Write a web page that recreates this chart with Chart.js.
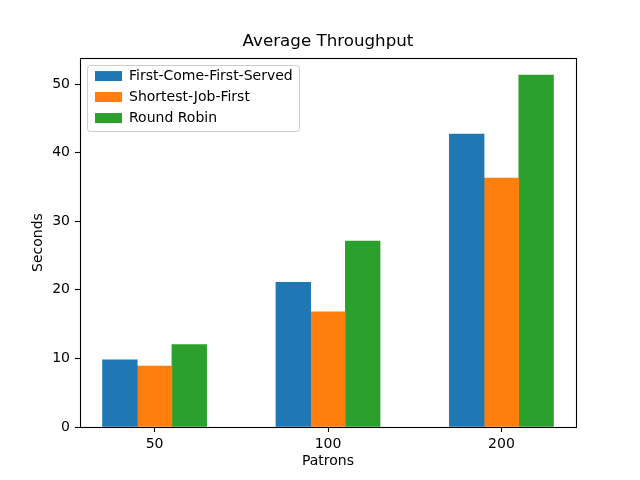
<!DOCTYPE html>
<html>
<head>
<meta charset="utf-8">
<script src="https://cdn.jsdelivr.net/npm/chart.js@4"></script>
<style>
  html, body { margin: 0; padding: 0; background: #fff; }
  #chart { display: block; }
</style>
</head>
<body>
<canvas id="chart" width="640" height="480"></canvas>
<script>
// values
const categories = ["50", "100", "200"];
const seriesNames = ["First-Come-First-Served", "Shortest-Job-First", "Round Robin"];
const fcfsValues = [9.8, 21.1, 42.7];
const sjfValues = [8.9, 16.8, 36.3];
const rrValues = [12.0, 27.1, 51.3];
const colors = ["#1f77b4", "#ff7f0e", "#2ca02c"];

const FONT = "'DejaVu Sans', 'Liberation Sans', sans-serif";

function toPoints(values) {
  return values.map((v, i) => ({ x: i, y: v }));
}

const datasets = [fcfsValues, sjfValues, rrValues].map((vals, i) => ({
  label: seriesNames[i],
  data: toPoints(vals),
  backgroundColor: colors[i],
  borderWidth: 0,
  barThickness: 34.7,
}));

// axes box + matplotlib-like legend frame
const framePlugin = {
  id: "frame",
  afterLayout(chart) {
    const a = chart.chartArea;
    chart.legend.left = a.left + 8;
    chart.legend.top = a.top + 4;
  },
  beforeDraw(chart) {
    const ctx = chart.ctx;
    ctx.save();
    ctx.fillStyle = "#fff";
    ctx.fillRect(0, 0, chart.width, chart.height);
    ctx.restore();
  },
  afterDraw(chart) {
    const { ctx, chartArea: a } = chart;
    ctx.save();
    ctx.strokeStyle = "#000";
    ctx.lineWidth = 1.1;
    ctx.strokeRect(Math.round(a.left) + 0.5, Math.round(a.top) + 0.5,
      Math.round(a.right - a.left), Math.round(a.bottom - a.top));
    // legend frame
    const x = a.left + 7.5, y = a.top + 7.5, w = 212, h = 66, r = 3;
    ctx.strokeStyle = "#cccccc";
    ctx.lineWidth = 1;
    ctx.beginPath();
    ctx.moveTo(x + r, y);
    ctx.arcTo(x + w, y, x + w, y + h, r);
    ctx.arcTo(x + w, y + h, x, y + h, r);
    ctx.arcTo(x, y + h, x, y, r);
    ctx.arcTo(x, y, x + w, y, r);
    ctx.closePath();
    ctx.stroke();
    ctx.restore();
  },
};

new Chart(document.getElementById("chart"), {
  type: "bar",
  data: { datasets },
  plugins: [framePlugin],
  options: {
    responsive: false,
    animation: false,
    devicePixelRatio: 1,
    layout: { padding: { left: 0, right: 64, top: 0, bottom: 0 } },
    plugins: {
      tooltip: { enabled: false },
      title: {
        display: true,
        fullSize: false,
        text: "Average Throughput",
        color: "#000",
        font: { family: FONT, size: 16.7, weight: "normal", lineHeight: 1.2 },
        padding: { top: 32, bottom: 6 },
      },
      legend: {
        position: "chartArea",
        align: "start",
        labels: {
          color: "#000",
          font: { family: FONT, size: 14 },
          boxWidth: 27,
          boxHeight: 10,
          padding: 7,
        },
      },
    },
    scales: {
      x: {
        type: "linear",
        offset: false,
        min: -0.43,
        max: 2.43,
        afterBuildTicks: (scale) => {
          scale.ticks = categories.map((_, i) => ({ value: i }));
        },
        afterFit: (scale) => { scale.height = 53; },
        ticks: {
          color: "#000",
          font: { family: FONT, size: 14 },
          padding: 4,
          autoSkip: false,
          maxRotation: 0,
          callback: (v) => categories[v],
        },
        grid: { offset: false, drawOnChartArea: false, color: "#000", tickLength: 5, tickWidth: 1.1 },
        border: { display: false },
        title: {
          display: true,
          text: "Patrons",
          color: "#000",
          font: { family: FONT, size: 14, lineHeight: 1.2 },
          padding: { top: 0, bottom: 10 },
        },
      },
      y: {
        min: 0,
        max: 53.8,
        afterFit: (scale) => { scale.width = 80; },
        ticks: {
          stepSize: 10,
          includeBounds: false,
          color: "#000",
          font: { family: FONT, size: 14 },
          padding: 5,
        },
        grid: { drawOnChartArea: false, color: "#000", tickLength: 5, tickWidth: 1.1 },
        border: { display: false },
        title: {
          display: true,
          text: "Seconds",
          color: "#000",
          font: { family: FONT, size: 14, lineHeight: 1.2 },
          padding: { top: 30, bottom: 0 },
        },
      },
    },
  },
});
</script>
</body>
</html>
